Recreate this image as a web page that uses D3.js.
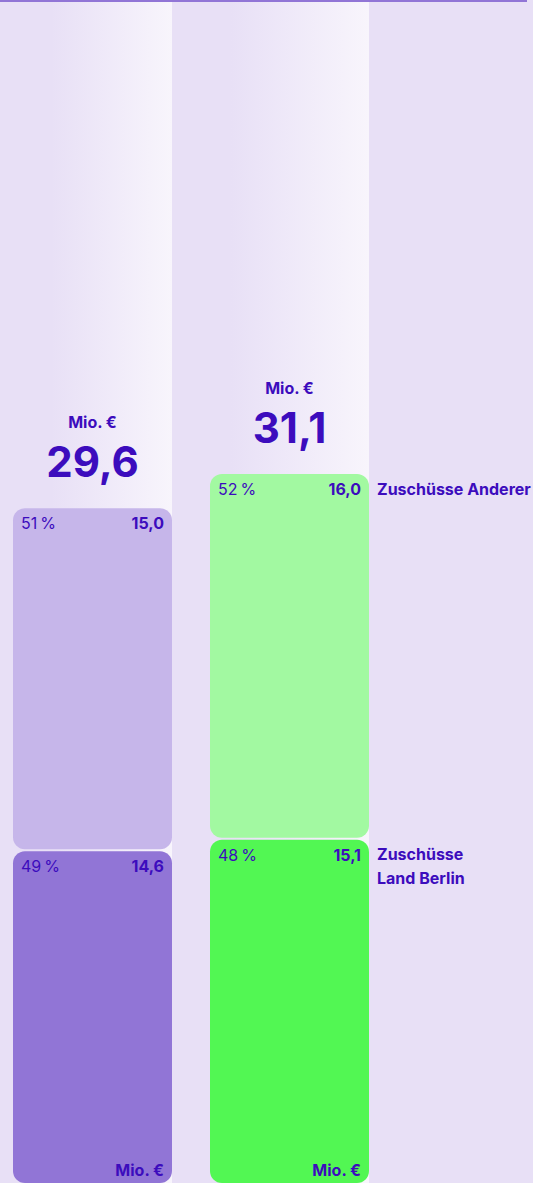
<!DOCTYPE html>
<html>
<head>
<meta charset="utf-8">
<script src="https://cdn.jsdelivr.net/npm/d3@7"></script>
<style>
  html, body { margin: 0; padding: 0; background: #e8e0f6; }
  svg { display: block; font-family: Inter, "Noto Sans", sans-serif; }
</style>
</head>
<body>
<svg id="chart"></svg>
<script>
// data
const years = ["A", "B"];
const totals = [29.6, 31.1];
const berlin = [14.6, 15.1];
const andere = [15.0, 16.0];
const berlinPct = [49, 48];
const anderePct = [51, 52];
const seriesNames = ["Zuschüsse Anderer", ["Zuschüsse", "Land Berlin"]];

const width = 533, height = 1183;
const textColor = "#3c0cbd";
const colors = {
  andere: ["#c6b6ea", "#a2f9a1"],
  berlin: ["#9175d6", "#52f753"]
};

const svg = d3.select("#chart").attr("width", width).attr("height", height);

const x = d3.scaleBand().domain(years).range([13, 369]).paddingInner(38 / 197);
const y = d3.scaleLinear().domain([0, 31.1]).range([height, 474]);
const fmt = v => d3.format(".1f")(v).replace(".", ",");

// background gradient bands
const defs = svg.append("defs");
const grad = defs.append("linearGradient").attr("id", "band");
grad.append("stop").attr("offset", "0%").attr("stop-color", "#e8e0f6");
grad.append("stop").attr("offset", "30%").attr("stop-color", "#e8e0f6");
grad.append("stop").attr("offset", "100%").attr("stop-color", "#f8f5fc");

years.forEach((yr, i) => {
  const left = i === 0 ? 0 : x(years[i - 1]) + x.bandwidth();
  svg.append("rect")
    .attr("x", left).attr("y", 0)
    .attr("width", x(yr) + x.bandwidth() - left).attr("height", height)
    .attr("fill", "url(#band)");
});

// top rule
svg.append("rect").attr("x", 0).attr("y", 0).attr("width", 527).attr("height", 2).attr("fill", "#9175d6");

const r = 12;
years.forEach((yr, i) => {
  const bx = x(yr), bw = x.bandwidth();
  // bottom segment
  svg.append("rect")
    .attr("x", bx).attr("y", y(berlin[i]) + 1)
    .attr("width", bw).attr("height", y(0) - y(berlin[i]) - 1)
    .attr("rx", r).attr("fill", colors.berlin[i]);
  // top segment
  svg.append("rect")
    .attr("x", bx).attr("y", y(totals[i]))
    .attr("width", bw).attr("height", y(berlin[i]) - y(totals[i]) - 1)
    .attr("rx", r).attr("fill", colors.andere[i]);

  // segment labels
  const segs = [
    { top: y(totals[i]), pct: anderePct[i], val: andere[i] },
    { top: y(berlin[i]) + 1, pct: berlinPct[i], val: berlin[i] }
  ];
  segs.forEach(s => {
    svg.append("text").attr("x", bx + 8).attr("y", s.top + 21)
      .attr("fill", textColor).attr("font-size", 16).text(s.pct + "\u202F%");
    svg.append("text").attr("x", bx + bw - 8).attr("y", s.top + 21)
      .attr("text-anchor", "end").attr("fill", textColor)
      .attr("font-size", 16).attr("font-weight", 700).text(fmt(s.val));
  });
  svg.append("text").attr("x", bx + bw - 8).attr("y", height - 7)
    .attr("text-anchor", "end").attr("fill", textColor)
    .attr("font-size", 16).attr("font-weight", 700).text("Mio. €");

  // totals
  const cx = bx + bw / 2;
  svg.append("text").attr("x", cx).attr("y", y(totals[i]) - 80)
    .attr("text-anchor", "middle").attr("fill", textColor)
    .attr("font-size", 16).attr("font-weight", 700).text("Mio. €");
  svg.append("text").attr("x", cx).attr("y", y(totals[i]) - 31)
    .attr("text-anchor", "middle").attr("fill", textColor)
    .attr("font-size", 42).attr("font-weight", 700).text(fmt(totals[i]));
});

// series labels next to last bar
const lastX = x(years[1]) + x.bandwidth() + 8;
svg.append("text").attr("x", lastX).attr("y", y(totals[1]) + 21)
  .attr("fill", textColor).attr("font-size", 16).attr("font-weight", 700)
  .text(seriesNames[0]);
const t2 = svg.append("text").attr("x", lastX).attr("y", y(berlin[1]) + 21)
  .attr("fill", textColor).attr("font-size", 16).attr("font-weight", 700);
seriesNames[1].forEach((s, k) => {
  t2.append("tspan").attr("x", lastX).attr("dy", k === 0 ? 0 : 24).text(s);
});
</script>
</body>
</html>
